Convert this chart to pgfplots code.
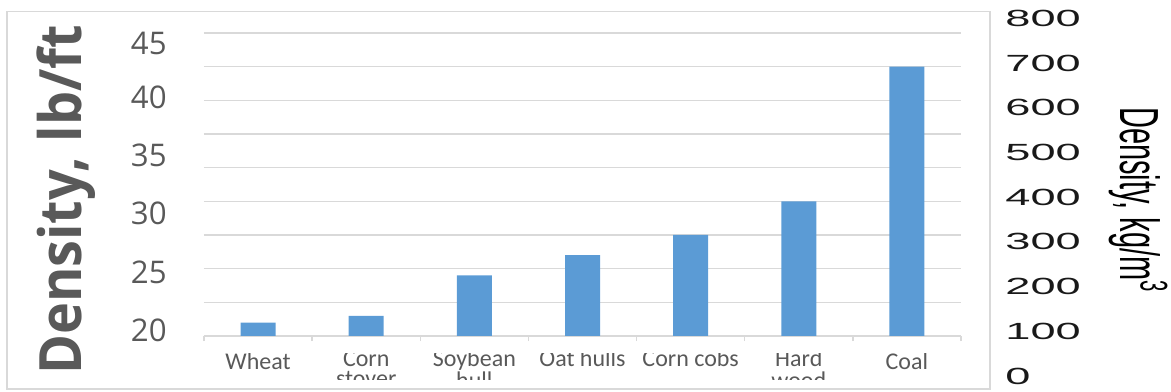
\documentclass[border=0pt]{standalone}
\usepackage{fontspec}
\setmainfont{Carlito}
\newfontfamily\osans{Open Sans}
\newfontfamily\lib{Liberation Sans}
\usepackage{graphicx}
\usepackage{pgfplots}
\pgfplotsset{compat=1.18}
\definecolor{barblue}{HTML}{5B9BD5}
\definecolor{txtgray}{HTML}{595959}
\definecolor{gridgray}{HTML}{D9D9D9}
\newcommand\rl[1]{\scalebox{1.93}[1]{#1}}
\newcommand\tl[2]{\raisebox{1.5bp}{\begin{tabular}[t]{@{}c@{}}#1\\#2\end{tabular}}}
\begin{document}
\begin{tikzpicture}
% chart-area frame
\draw[gridgray, line width=0.65bp] (-98.5bp,-26.5bp) rectangle (393bp,162.25bp);
\begin{axis}[
  at={(0,0)}, anchor=south west,
  scale only axis, width=378.5bp, height=151.5bp,
  xmin=-0.5, xmax=6.5, ymin=20, ymax=42.5,
  axis x line*=bottom, axis y line*=left,
  x axis line style={gridgray, line width=0.75bp},
  y axis line style={draw=none},
  xtick={-0.5,0.5,1.5,2.5,3.5,4.5,5.5,6.5}, xticklabels={},
  x tick style={gridgray, line width=0.75bp}, tick align=outside, major tick length=2.5bp,
  ytick={22.5,25,27.5,30,32.5,35,37.5,40,42.5}, yticklabels={},
  y tick style={draw=none},
  ymajorgrids, major grid style={gridgray, line width=0.75bp},
  extra y ticks={20.45,24.75,29.13,33.44,37.74,41.75},
  extra y tick labels={20,25,30,35,40,45},
  extra y tick style={grid=none, major tick length=0pt},
  yticklabel style={font=\osans\fontsize{15.6bp}{18bp}\selectfont, text=txtgray, anchor=east, inner sep=0pt, xshift=-18.5bp},
  ylabel={\scalebox{0.925}[1]{Density, lb/ft}},
  every axis y label/.style={at={(axis description cs:-0.1612,0.449)}, rotate=90, anchor=base, font=\osans\bfseries\fontsize{29.2bp}{34bp}\selectfont, text=txtgray, inner sep=0pt},
  ybar, bar width=17.5bp,
]
\addplot[fill=barblue, draw=none] coordinates {(0,21) (1,21.5) (2,24.5) (3,26) (4,27.5) (5,30) (6,40)};
\end{axis}
% category labels, clipped as in the reference
\begin{scope}
\clip (-20bp,-8.5bp) rectangle (400bp,-21.75bp);
\begin{axis}[
  at={(0,0)}, anchor=south west,
  scale only axis, width=378.5bp, height=151.5bp,
  xmin=-0.5, xmax=6.5, ymin=0, ymax=1,
  axis line style={draw=none}, tick style={draw=none},
  ytick=\empty, xtick={0,1,2,3,4,5,6},
  xticklabels={Wheat,\tl{Corn}{stover},\tl{Soybean}{hull},\raisebox{1.5bp}{Oat hulls},\raisebox{1.5bp}{Corn cobs},\tl{Hard}{wood},Coal},
  xticklabel style={font=\fontsize{12bp}{9bp}\selectfont, text=txtgray, anchor=base, inner sep=0pt, yshift=-16.5bp},
]
\end{axis}
\end{scope}
% right axis (kg/m^3)
\begin{axis}[
  at={(0,-20bp)}, anchor=south west,
  scale only axis, width=400.5bp, height=178.85bp,
  xmin=0, xmax=1, ymin=0, ymax=800,
  axis x line=none, axis y line*=right,
  y axis line style={draw=none}, y tick style={draw=none},
  ytick={0,100,200,300,400,500,600,700,800},
  yticklabels={\rl{0},\rl{100},\rl{200},\rl{300},\rl{400},\rl{500},\rl{600},\rl{700},\rl{800}},
  yticklabel style={font=\lib\fontsize{11.7bp}{14bp}\selectfont, text=black!90, anchor=west, inner sep=0pt},
]
\end{axis}
\node[anchor=east, inner sep=0pt, font=\lib\fontsize{14.5bp}{17bp}\selectfont, text=black] at (482bp,68bp) {\scalebox{1.9}[1]{\rotatebox{-90}{Density, kg/m\textsuperscript{3}}}};
\pgfresetboundingbox
\path (-102bp,-28bp) rectangle (483.5bp,168bp);
\end{tikzpicture}
\end{document}
